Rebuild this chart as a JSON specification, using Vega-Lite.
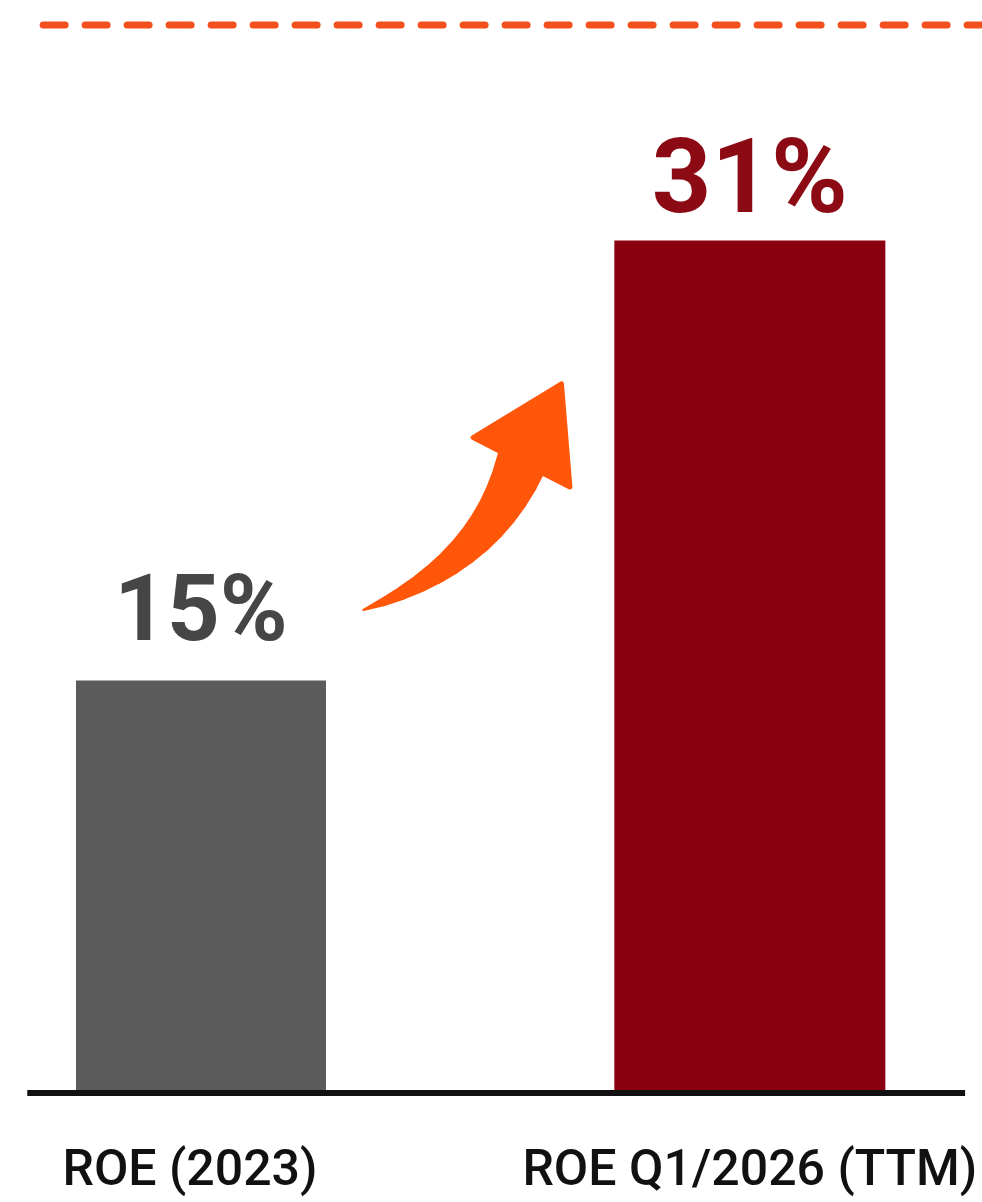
{
  "$schema": "https://vega.github.io/schema/vega-lite/v6.json",
  "width": 982,
  "height": 1202,
  "autosize": {"type": "none"},
  "padding": 0,
  "background": "white",
  "config": {"view": {"stroke": null}},
  "datasets": {
    "bars": [
      {"label": "ROE (2023)", "pos": 1, "roe": 15, "value_label": "15%"},
      {"label": "ROE Q1/2026 (TTM)", "pos": 2, "roe": 31, "value_label": "31%"}
    ],
    "reference": [
      {"name": "target", "level": 38.84}
    ],
    "arrow": [
      {"step": 0, "ax": 1.29576, "ay": 17.564},
      {"step": 1, "ax": 1.33165, "ay": 17.851},
      {"step": 2, "ax": 1.36537, "ay": 18.171},
      {"step": 3, "ax": 1.39693, "ay": 18.513},
      {"step": 4, "ax": 1.42651, "ay": 18.891},
      {"step": 5, "ax": 1.45374, "ay": 19.291},
      {"step": 6, "ax": 1.47881, "ay": 19.727},
      {"step": 7, "ax": 1.50171, "ay": 20.189},
      {"step": 8, "ax": 1.52263, "ay": 20.684},
      {"step": 9, "ax": 1.54121, "ay": 21.204},
      {"step": 10, "ax": 1.55780, "ay": 21.760},
      {"step": 11, "ax": 1.57205, "ay": 22.338},
      {"step": 12, "ax": 1.58431, "ay": 22.945},
      {"step": 13, "ax": 1.59200, "ay": 23.400}
    ],
    "arrowhead": [
      {"ax": 1.6204, "ay": 24.36}
    ]
  },
  "layer": [
    {
      "data": {"name": "reference"},
      "mark": {"type": "rule", "color": "#f2501c", "strokeWidth": 7, "strokeDash": [22, 20], "strokeCap": "round"},
      "encoding": {
        "x": {"datum": 0.7124, "type": "quantitative", "scale": {"domain": [0.64292, 2.41388], "nice": false, "zero": false}, "axis": null},
        "x2": {"datum": 2.45},
        "y": {"field": "level", "type": "quantitative", "scale": {"domain": [-3.964, 39.745], "nice": false, "zero": false}, "axis": null}
      }
    },
    {
      "data": {"name": "bars"},
      "mark": {"type": "bar"},
      "encoding": {
        "x": {"field": "pos", "type": "quantitative", "scale": {"domain": [0.64292, 2.41388], "nice": false, "zero": false}, "axis": null},
        "y": {"field": "roe", "type": "quantitative", "scale": {"domain": [-3.964, 39.745], "nice": false, "zero": false}, "axis": null},
        "y2": {"datum": 0},
        "size": {"condition": {"test": "datum.label == 'ROE (2023)'", "value": 250}, "value": 271},
        "color": {"field": "label", "type": "nominal", "scale": {"domain": ["ROE (2023)", "ROE Q1/2026 (TTM)"], "range": ["#5b5b5b", "#8a0010"]}, "legend": null}
      }
    },
    {
      "data": {"name": "reference"},
      "mark": {"type": "rule", "color": "#111111", "strokeWidth": 6},
      "encoding": {
        "x": {"datum": 0.6835, "type": "quantitative"},
        "x2": {"datum": 2.3922},
        "y": {"datum": 0, "type": "quantitative"}
      }
    },
    {
      "data": {"name": "bars"},
      "transform": [{"filter": "datum.label == 'ROE (2023)'"}],
      "mark": {"type": "text", "font": "Roboto", "fontWeight": "bold", "fontSize": 92, "baseline": "alphabetic", "align": "center", "dy": -40, "color": "#464646"},
      "encoding": {
        "x": {"field": "pos", "type": "quantitative"},
        "y": {"field": "roe", "type": "quantitative"},
        "text": {"field": "value_label"}
      }
    },
    {
      "data": {"name": "bars"},
      "transform": [{"filter": "datum.label == 'ROE Q1/2026 (TTM)'"}],
      "mark": {"type": "text", "font": "Roboto", "fontWeight": "bold", "fontSize": 104, "baseline": "alphabetic", "align": "center", "dy": -28, "color": "#8c0a14"},
      "encoding": {
        "x": {"field": "pos", "type": "quantitative"},
        "y": {"field": "roe", "type": "quantitative"},
        "text": {"field": "value_label"}
      }
    },
    {
      "data": {"name": "bars"},
      "transform": [{"filter": "datum.label == 'ROE (2023)'"}],
      "mark": {"type": "text", "font": "Roboto", "fontWeight": 500, "fontSize": 50, "baseline": "alphabetic", "align": "center", "dy": 92, "dx": -11, "color": "#111111"},
      "encoding": {
        "x": {"field": "pos", "type": "quantitative"},
        "y": {"datum": 0, "type": "quantitative"},
        "text": {"field": "label"}
      }
    },
    {
      "data": {"name": "bars"},
      "transform": [{"filter": "datum.label == 'ROE Q1/2026 (TTM)'"}],
      "mark": {"type": "text", "font": "Roboto", "fontWeight": 500, "fontSize": 50, "baseline": "alphabetic", "align": "center", "dy": 92, "dx": 0, "color": "#111111"},
      "encoding": {
        "x": {"field": "pos", "type": "quantitative"},
        "y": {"datum": 0, "type": "quantitative"},
        "text": {"field": "label"}
      }
    },
    {
      "data": {"name": "arrow"},
      "mark": {"type": "trail", "color": "#ff560a"},
      "encoding": {
        "x": {"field": "ax", "type": "quantitative"},
        "y": {"field": "ay", "type": "quantitative"},
        "order": {"field": "step"},
        "size": {"field": "step", "type": "quantitative", "scale": {"type": "pow", "exponent": 0.8, "domain": [0, 13], "range": [2, 54]}, "legend": null}
      }
    },
    {
      "data": {"name": "arrowhead"},
      "mark": {"type": "point", "shape": "M0,-0.81L1,0.81L-1,0.81Z", "size": 11800, "angle": 27, "filled": true, "color": "#ff560a", "stroke": "#ff560a", "strokeWidth": 5, "strokeJoin": "round", "opacity": 1},
      "encoding": {
        "x": {"field": "ax", "type": "quantitative"},
        "y": {"field": "ay", "type": "quantitative"}
      }
    }
  ]
}
